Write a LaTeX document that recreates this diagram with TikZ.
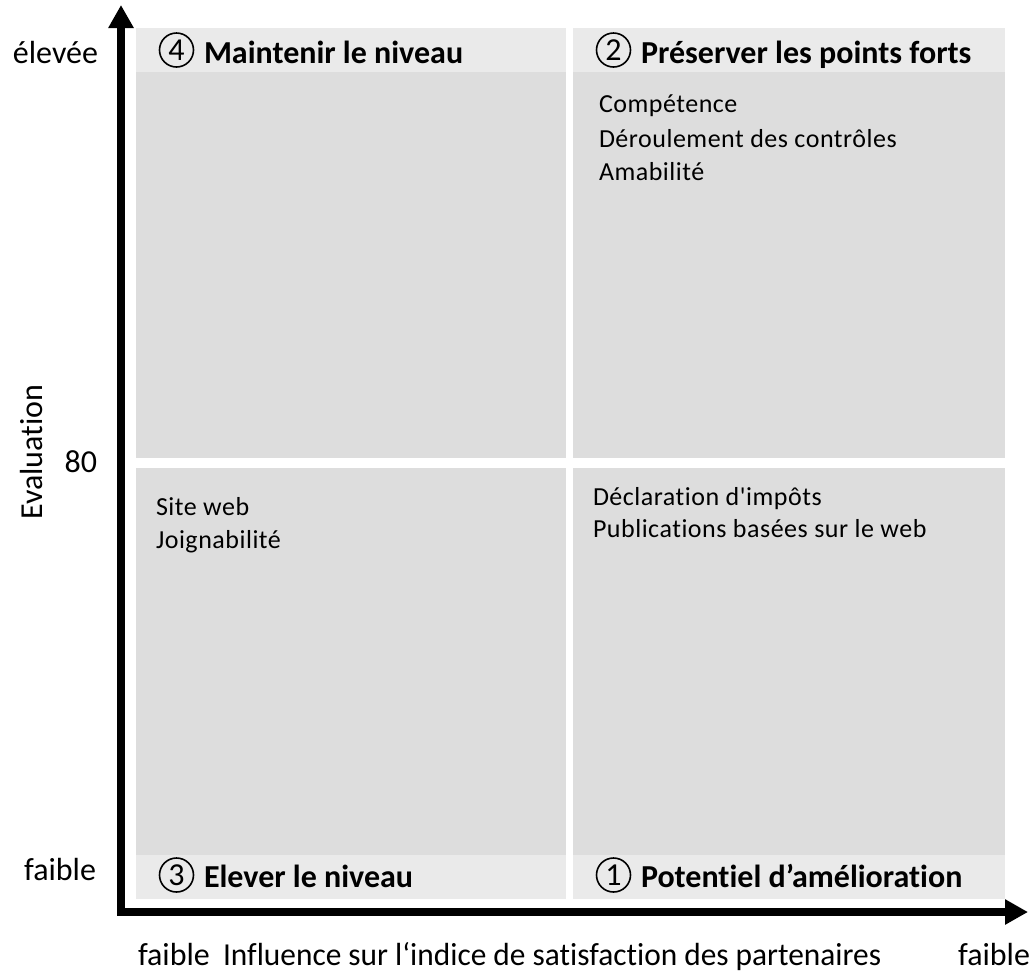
\documentclass[tikz,border=0pt]{standalone}
\usepackage{fontspec}
\setmainfont{Carlito}[Ligatures={TeXOff,CommonOff}]
\usetikzlibrary{arrows.meta}
\definecolor{quadgray}{RGB}{221,221,221}
\definecolor{bandgray}{RGB}{234,234,234}

\begin{document}
\begin{tikzpicture}[x=0.5pt, y=-0.5pt,
    every node/.style={inner sep=0pt, outer sep=0pt},
    quad/.style={fill=quadgray},
    band/.style={fill=bandgray},
    num/.style={circle, draw, line width=0.8pt, minimum size=17pt, font=\fontsize{16}{19}\selectfont},
    title/.style={anchor=base west, font=\fontsize{16}{19}\selectfont\bfseries},
    item/.style={anchor=base west, font=\fontsize{13}{15}\selectfont\addfontfeature{LetterSpace=2}},
    axislabel/.style={font=\fontsize{16}{19}\selectfont},
    axis/.style={line width=4pt, line join=miter, {Triangle[length=11.5pt, width=12pt]}-{Triangle[length=11.5pt, width=12pt]}}
  ]
    \useasboundingbox (0,0) rectangle (1033,976);

    \fill[quad] (136,28) rectangle (566,458);
    \fill[quad] (573,28) rectangle (1005,458);
    \fill[quad] (136,468) rectangle (566,899);
    \fill[quad] (573,468) rectangle (1005,899);
    \fill[band] (136,28) rectangle (566,72);
    \fill[band] (573,28) rectangle (1005,72);
    \fill[band] (136,855) rectangle (566,899);
    \fill[band] (573,855) rectangle (1005,899);

    \node[num] (n4) at (176.5,50) {4};
    \node[title] (t4) at (204,63) {Maintenir le niveau};
    \node[num] (n2) at (613.5,50) {2};
    \node[title] (t2) at (641,63) {Préserver les points forts};
    \node[num] (n3) at (176.5,875) {3};
    \node[title] (t3) at (204,887) {Elever le niveau};
    \node[num] (n1) at (613.5,875) {1};
    \node[title] (t1) at (641,887) {Potentiel d’amélioration};

    \node[item] (comp) at (599,112) {Compétence};
    \node[item] (deroul) at (599,147) {Déroulement des contrôles};
    \node[item] (amab) at (599,180) {Amabilité};
    \node[item] (site) at (156,515) {Site web};
    \node[item] (joign) at (156,548) {Joignabilité};
    \node[item] (decl) at (593,505) {Déclaration d'impôts};
    \node[item] (publ) at (593,537) {Publications basées sur le web};

    \coordinate (origin) at (121,912);
    \coordinate (ytop) at (121,5);
    \coordinate (xend) at (1028,912);
    \draw[axis] (ytop) -- (origin) -- (xend);

    \node[axislabel, anchor=base east] (high) at (98,63) {élevée};
    \node[axislabel, anchor=base east] (low) at (96,880) {faible};
    \node[axislabel, anchor=base east] (mid) at (97,472) {80};
    \node[axislabel, anchor=base, rotate=90] (ylabel) at (42,452) {Evaluation};
    \node[axislabel, anchor=base west] (xlow) at (138,965) {faible};
    \node[axislabel, anchor=base west, xscale=0.98, transform shape] (xlabel) at (223,965) {Influence sur l‘indice de satisfaction des partenaires};
    \node[axislabel, anchor=base east] (xhigh) at (1030,965) {faible};
  \end{tikzpicture}
\end{document}
